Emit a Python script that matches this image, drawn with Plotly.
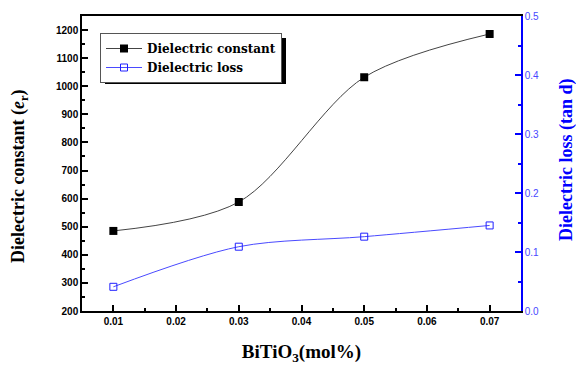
import plotly.graph_objects as go

x_mol = [0.01, 0.03, 0.05, 0.07]
dielectric_constant = [485, 588, 1032, 1186]
dielectric_loss = [0.041, 0.109, 0.126, 0.145]

fig = go.Figure()
fig.add_trace(go.Scatter(
    x=x_mol, y=dielectric_constant, name="Dielectric constant",
    mode="lines+markers", line=dict(color="#444444", width=1, shape="spline", smoothing=0.9),
    marker=dict(symbol="square", size=8, color="black"), yaxis="y"))
fig.add_trace(go.Scatter(
    x=x_mol, y=dielectric_loss, name="Dielectric loss",
    mode="lines+markers", line=dict(color="#4a4aff", width=1, shape="spline", smoothing=0.9),
    marker=dict(symbol="square-open", size=7, color="#2020ff", line=dict(width=1)), yaxis="y2"))

serif = "Liberation Serif, Times New Roman"
sans = "Liberation Sans, Arial"

# plot area on screen: x 82..521, y 16..311 (page body adds an 8px offset)
def px(x):
    return (x - 82) / 439

def py(y):
    return (311 - y) / 295

fig.update_layout(
    width=576, height=357,
    margin=dict(l=74, r=63, t=8, b=54, autoexpand=False),
    paper_bgcolor="white", plot_bgcolor="white",
    showlegend=True,
    legend=dict(x=px(100), y=py(33), xanchor="left", yanchor="top",
                bgcolor="white", bordercolor="#555555", borderwidth=1,
                font=dict(family="DejaVu Serif", size=12, color="black", weight="bold"),
                tracegroupgap=0, itemwidth=36),
    xaxis=dict(range=[0.005, 0.075], tick0=0.01, dtick=0.01, tickformat=".2f",
               ticks="inside", ticklen=6, tickwidth=1.5, tickcolor="black",
               minor=dict(ticks="inside", ticklen=3, dtick=0.005, tickcolor="black"),
               showline=True, linecolor="black", linewidth=1.5, mirror=True,
               showgrid=False, zeroline=False, automargin=False,
               tickfont=dict(family=sans, size=10, color="black", weight="bold"),
               title=dict(text="<b>BiTiO<sub>3</sub>(mol%)</b>",
                          font=dict(family=serif, size=19, color="black"), standoff=29)),
    yaxis=dict(range=[200, 1250], tick0=200, dtick=100,
               ticks="inside", ticklen=6, tickwidth=1.5, tickcolor="black",
               minor=dict(ticks="inside", ticklen=3, dtick=50, tickcolor="black"),
               showline=True, linecolor="black", linewidth=1.5,
               showgrid=False, zeroline=False, automargin=False,
               tickfont=dict(family=sans, size=10, color="black", weight="bold")),
    yaxis2=dict(range=[0, 0.5], dtick=0.1, tickformat=".1f", overlaying="y", side="right",
                ticks="inside", ticklen=6, tickwidth=1.5, tickcolor="blue",
                minor=dict(ticks="inside", ticklen=3, dtick=0.05, tickcolor="blue"),
                showline=True, linecolor="blue", linewidth=1.5,
                showgrid=False, zeroline=False, automargin=False,
                tickfont=dict(family=sans, size=10, color="#4848ff")),
)

fig.add_annotation(text="<b>Dielectric constant (<i>e</i><sub>r</sub>)</b>", textangle=-90,
                   xref="paper", yref="paper", x=px(19), y=py(176),
                   xanchor="center", yanchor="middle", showarrow=False,
                   font=dict(family=serif, size=18, color="black"))
fig.add_annotation(text="<b>Dielectric loss (tan d)</b>", textangle=-90,
                   xref="paper", yref="paper", x=px(566), y=py(160),
                   xanchor="center", yanchor="middle", showarrow=False,
                   font=dict(family=serif, size=18, color="blue"))

fig.add_shape(type="rect", xref="paper", yref="paper",
              x0=px(105), x1=px(286), y0=py(84), y1=py(38),
              fillcolor="black", line=dict(width=0), layer="below")

fig.write_html("out.html")
